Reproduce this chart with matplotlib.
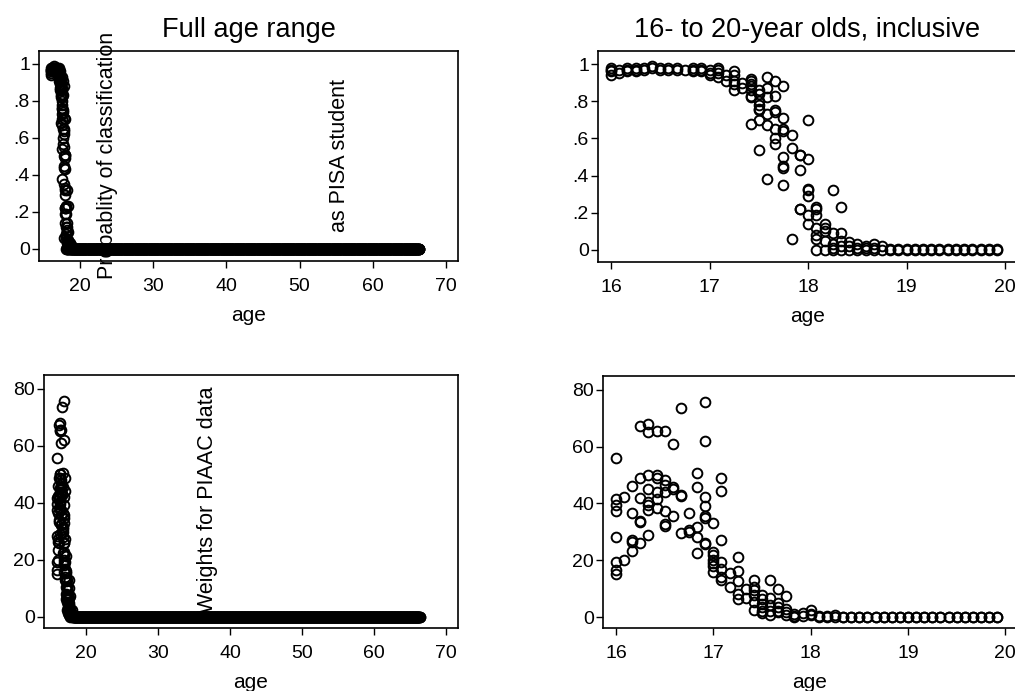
import matplotlib
matplotlib.use("Agg")
import matplotlib.pyplot as plt
import numpy as np

plt.rcParams['font.family'] = ['Liberation Sans', 'DejaVu Sans']

# probability of being classified as PISA student, by age (months from 16 to 19 11/12)
prob_cols = [
    (16.000, [0.94, 0.96, 0.97, 0.98]),
    (16.083, [0.95, 0.97]),
    (16.167, [0.96, 0.97, 0.98]),
    (16.250, [0.96, 0.97, 0.98]),
    (16.333, [0.97, 0.98]),
    (16.417, [0.98, 0.99]),
    (16.500, [0.97, 0.98]),
    (16.583, [0.97, 0.98]),
    (16.667, [0.97, 0.98]),
    (16.750, [0.97]),
    (16.833, [0.96, 0.97, 0.98]),
    (16.917, [0.96, 0.97, 0.98]),
    (17.000, [0.94, 0.95, 0.97]),
    (17.083, [0.93, 0.95, 0.97, 0.98]),
    (17.167, [0.91, 0.94]),
    (17.250, [0.86, 0.89, 0.91, 0.94, 0.96]),
    (17.333, [0.87, 0.90]),
    (17.417, [0.68, 0.82, 0.83, 0.86, 0.88, 0.89, 0.91, 0.92]),
    (17.500, [0.54, 0.70, 0.755, 0.76, 0.78, 0.80, 0.84, 0.86]),
    (17.583, [0.38, 0.67, 0.73, 0.82, 0.87, 0.93]),
    (17.667, [0.57, 0.60, 0.65, 0.74, 0.75, 0.83, 0.91]),
    (17.750, [0.35, 0.44, 0.45, 0.50, 0.64, 0.65, 0.71, 0.88]),
    (17.833, [0.06, 0.55, 0.62]),
    (17.917, [0.22, 0.22, 0.43, 0.51, 0.51]),
    (18.000, [0.14, 0.19, 0.29, 0.32, 0.33, 0.49, 0.70]),
    (18.083, [0.0, 0.06, 0.08, 0.12, 0.19, 0.22, 0.23]),
    (18.167, [0.0, 0.05, 0.10, 0.12, 0.14]),
    (18.250, [0.0, 0.01, 0.03, 0.09, 0.32]),
    (18.333, [0.0, 0.02, 0.05, 0.09, 0.23]),
    (18.417, [0.0, 0.02, 0.04]),
    (18.500, [0.0, 0.01, 0.03]),
    (18.583, [0.0, 0.01, 0.02]),
    (18.667, [0.0, 0.01, 0.03]),
    (18.750, [0.0, 0.02]),
]

# PIAAC weights by age
wt_cols = [
    (16.000, [15.0, 16.4, 19.3, 28.3, 37.5, 39.6, 41.6, 55.9]),
    (16.083, [20.1, 42.4]),
    (16.167, [23.4, 26.3, 27.2, 36.5, 46.1]),
    (16.250, [26.1, 33.4, 34.0, 41.9, 48.9, 67.2]),
    (16.333, [29.0, 37.7, 39.6, 40.4, 45.1, 50.1, 65.3, 68.1]),
    (16.417, [38.4, 41.6, 43.9, 48.9, 50.1, 65.6]),
    (16.500, [32.2, 32.8, 37.5, 43.9, 46.6, 48.2, 65.6]),
    (16.583, [35.7, 45.1, 45.7, 60.9]),
    (16.667, [29.5, 42.7, 43.0, 73.6]),
    (16.750, [29.9, 30.7, 36.5]),
    (16.833, [22.5, 28.1, 31.6, 45.7, 50.6]),
    (16.917, [25.8, 26.0, 34.9, 35.7, 39.2, 42.2, 62.1, 75.9]),
    (17.000, [15.8, 18.1, 19.0, 20.1, 21.7, 22.8, 33.0]),
    (17.083, [13.1, 14.1, 17.0, 19.3, 27.2, 44.3, 48.9]),
    (17.167, [10.5, 15.5]),
    (17.250, [6.4, 8.2, 12.6, 16.2, 21.3]),
    (17.333, [6.8, 10.0]),
    (17.417, [2.6, 5.3, 7.6, 9.4, 10.5, 12.9]),
    (17.500, [1.4, 2.3, 3.5, 4.7, 6.4, 7.6]),
    (17.583, [0.6, 2.3, 4.1, 6.8, 12.9]),
    (17.667, [1.8, 2.3, 3.5, 4.9, 10.0]),
    (17.750, [0.6, 1.8, 2.9, 7.3]),
    (17.833, [0.0, 0.5, 1.2]),
    (17.917, [0.5, 1.3]),
    (18.000, [0.6, 1.2, 2.6]),
    (18.083, [0.0, 0.3]),
    (18.167, [0.0, 0.3]),
    (18.250, [0.0, 0.6]),
]

# later ages (monthly) where both series sit at zero
prob_zero_from = 18.833
wt_zero_from = 18.333
last_teen_age = 19.917
last_age = 66.333

months = np.round(np.arange(16.0, last_age + 0.01, 1 / 12), 3)


def flatten(cols, zero_from, top):
    ages, vals = [], []
    for a, vs in cols:
        ages += [a] * len(vs)
        vals += vs
    for a in months[(months >= zero_from - 1e-6) & (months <= top + 1e-6)]:
        ages += [a, a]
        vals += [0.0, 0.003 if top < 20 else 0.0]
    return np.array(ages), np.array(vals)


prob_age_t, prob_val_t = flatten(prob_cols, prob_zero_from, last_teen_age)
wt_age_t, wt_val_t = flatten(wt_cols, wt_zero_from, last_teen_age)
prob_age_f, prob_val_f = flatten(prob_cols, prob_zero_from, last_age)
wt_age_f, wt_val_f = flatten(wt_cols, wt_zero_from, last_age)

W, H = 1015, 691
fig = plt.figure(figsize=(W / 100, H / 100), dpi=100)


def box(l, t, r, b):
    return [l / W, 1 - b / H, (r - l) / W, (b - t) / H]


ax1 = fig.add_axes(box(39, 51, 458, 261))
ax2 = fig.add_axes(box(598, 51, 1017, 262))
ax3 = fig.add_axes(box(44, 375, 458, 628))
ax4 = fig.add_axes(box(603, 376, 1017, 628))

mk = dict(marker='o', linestyle='none', markersize=7.0, markerfacecolor='none',
          markeredgecolor='black', markeredgewidth=1.4)

ax1.plot(prob_age_f, prob_val_f, **mk)
ax2.plot(prob_age_t, prob_val_t, **mk)
ax3.plot(wt_age_f, wt_val_f, **mk)
ax4.plot(wt_age_t, wt_val_t, **mk)

for ax in (ax1, ax2):
    ax.set_ylim(-0.065, 1.07)
    ax.set_yticks([0, 0.2, 0.4, 0.6, 0.8, 1])
    ax.set_yticklabels(['0', '.2', '.4', '.6', '.8', '1'])
for ax in (ax3, ax4):
    ax.set_ylim(-3.86, 84.9)
    ax.set_yticks([0, 20, 40, 60, 80])

ax1.set_xlim(14.40, 71.64)
ax3.set_xlim(14.17, 71.67)
for ax in (ax1, ax3):
    ax.set_xticks([20, 30, 40, 50, 60, 70])
ax2.set_xlim(15.868, 20.12)
ax4.set_xlim(15.866, 20.12)
for ax in (ax2, ax4):
    ax.set_xticks([16, 17, 18, 19, 20])

for ax in (ax1, ax2, ax3, ax4):
    ax.tick_params(direction='out', length=5, width=1, labelsize=14, pad=1.5)
    ax.tick_params(axis='x', pad=7)
    for s in ax.spines.values():
        s.set_linewidth(1.2)
        s.set_color('black')
    ax.set_xlabel('age', fontsize=15, labelpad=8)

ax1.set_title('Full age range', fontsize=19.5, pad=10)
ax2.set_title('16- to 20-year olds, inclusive', fontsize=19.5, pad=10)

ax1.text(23.7, 0.503, 'Probablity of classification', rotation=90, ha='center',
         va='center', fontsize=15.5, clip_on=False)
ax1.text(55.4, 0.503, 'as PISA student', rotation=90, ha='center',
         va='center', fontsize=15.5, clip_on=False)
ax3.text(36.9, 41, 'Weights for PIAAC data', rotation=90, ha='center',
         va='center', fontsize=15.5, clip_on=False)

fig.savefig('out.png', dpi=100)
